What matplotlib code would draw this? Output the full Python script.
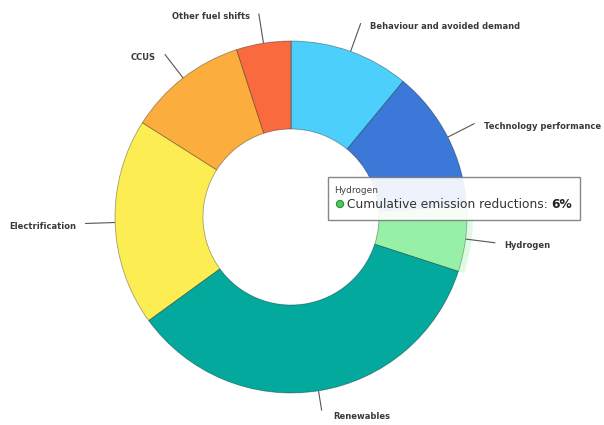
import matplotlib
matplotlib.use("Agg")
import matplotlib.pyplot as plt
from matplotlib.patches import Wedge, Rectangle, Circle
import numpy as np

# Share of cumulative emission reductions by measure (%)
categories = ["Behaviour and avoided demand", "Technology performance", "Hydrogen",
              "Renewables", "Electrification", "CCUS", "Other fuel shifts"]
shares = [11, 13, 6, 35, 19, 11, 5]
colors = ["#4dcffc", "#3b78d8", "#96f0a7", "#02a99c", "#fcee52", "#fbad3d", "#f96a3e"]
highlight = "Hydrogen"

W, H = 604, 425
fig = plt.figure(figsize=(W / 100, H / 100), dpi=100)
ax = fig.add_axes([0, 0, 1, 1])

CX, CY = 291, H - 217
R = 176
RING = 88

wedges, _ = ax.pie(shares, colors=colors, startangle=90, counterclock=False,
                   radius=R, center=(CX, CY),
                   wedgeprops=dict(width=RING, edgecolor=(0, 0, 0, 0.35), linewidth=0.6))
ax.set_xlim(0, W)
ax.set_ylim(0, H)
ax.set_aspect("equal")
ax.axis("off")

# hover halo around the highlighted slice
hi = categories.index(highlight)
hw = wedges[hi]
ax.add_patch(Wedge((CX, CY), R + 6, hw.theta1, hw.theta2, width=6,
                   facecolor=colors[hi], alpha=0.3, linewidth=0))

# data labels with short radial connectors
for name, w in zip(categories, wedges):
    mid = np.deg2rad((w.theta1 + w.theta2) / 2)
    c, s = np.cos(mid), np.sin(mid)
    bottom = s < -0.9
    reach = 20 if bottom else 30
    x0, y0 = CX + R * c, CY + R * s
    x1, y1 = CX + (R + reach) * c, CY + (R + reach) * s
    ax.plot([x0, x1], [y0, y1], color="#555555", lw=0.8, solid_capstyle="butt")
    right = c >= 0
    dx = 9 if right else -9
    dy = -3
    if bottom:
        dx, dy = 12, -6
    ax.text(x1 + dx, y1 + dy, name, ha="left" if right else "right", va="center",
            fontsize=6, fontweight="bold", color="#3a3a3a")

# tooltip for the highlighted slice
tx0, tx1 = 328, 580
ty_top, ty_bot = 177, 220
ax.add_patch(Rectangle((tx0, H - ty_bot), tx1 - tx0, ty_bot - ty_top,
                       facecolor="white", edgecolor="#7d7d7d", linewidth=1.0,
                       alpha=0.92, zorder=10))
ax.text(334, H - 190, highlight, fontsize=6.5, color="#444444", va="center",
        ha="left", zorder=11)
ax.add_patch(Circle((340, H - 204), 3.6, facecolor="#4cc85e", edgecolor="#2f8a3e",
                    linewidth=0.8, zorder=11))
t = ax.text(347, H - 204, "Cumulative emission reductions: ", fontsize=8.8,
            color="#333333", va="center", ha="left", zorder=11)
ax.annotate(f"{shares[hi]}%", xy=(1, 0.5), xycoords=t, va="center", ha="left",
            fontsize=8.8, fontweight="bold", color="#222222", zorder=11)

fig.savefig("out.png", dpi=100)
